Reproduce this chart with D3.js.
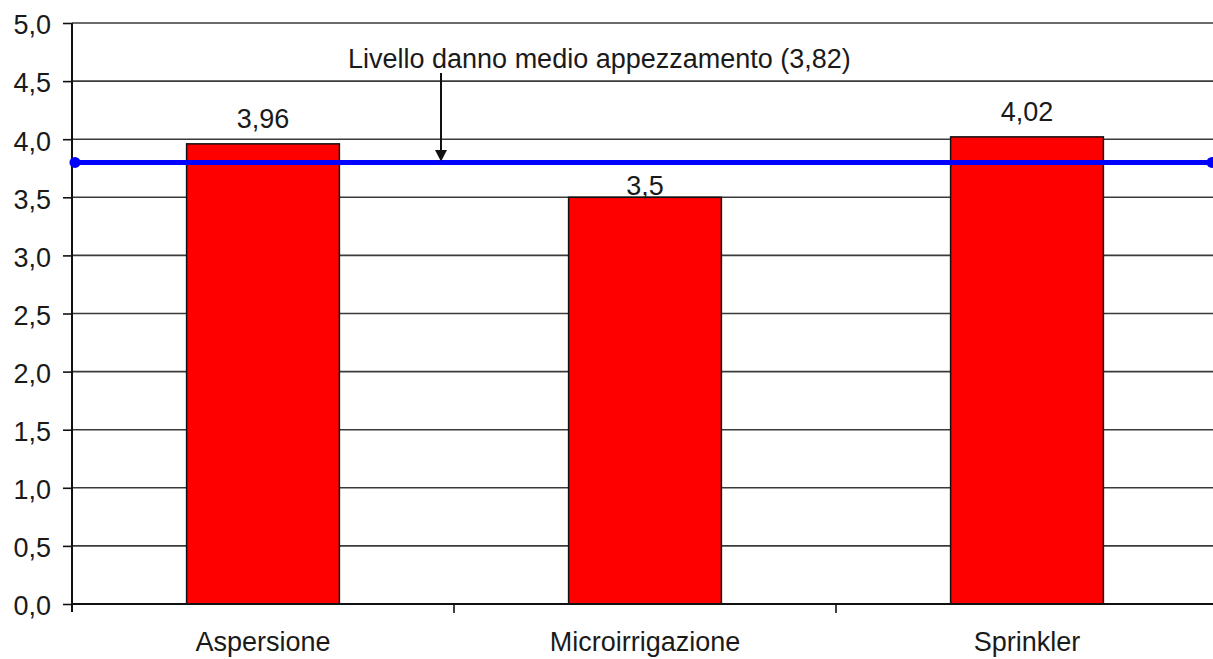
<!DOCTYPE html>
<html><head><meta charset="utf-8">
<script src="https://cdn.jsdelivr.net/npm/d3@7"></script>
<style>
html,body{margin:0;padding:0;background:#fff;overflow:hidden}
text{font-family:"Liberation Sans",Arial,sans-serif;fill:#1a1a1a}
</style></head>
<body><svg id="c" width="1213" height="659"></svg>
<script>
const categories = ["Aspersione","Microirrigazione","Sprinkler"];
const values = [3.96, 3.5, 4.02];
const valueLabels = ["3,96","3,5","4,02"];
const yTicks = [0,0.5,1,1.5,2,2.5,3,3.5,4,4.5,5];
const yTickLabels = ["0,0","0,5","1,0","1,5","2,0","2,5","3,0","3,5","4,0","4,5","5,0"];
const refValue = 3.8;
const refPoints = [0, 1];
const refLabel = "Livello danno medio appezzamento (3,82)";

(function(){
const svg = d3.select("#c");
const FS = 27;
const pL = 72, pR = 1218, pT = 23, pB = 604;
const x = d3.scaleBand().domain(categories).range([pL, pR]).paddingInner(0.6).paddingOuter(0.3);
const y = d3.scaleLinear().domain([0,5]).range([pB, pT]);
const xr = d3.scaleLinear().domain([0,1]).range([75, 1212]);
const gap = (x.step() - x.bandwidth())/2;

// gridlines
svg.append("g").selectAll("line").data(yTicks.filter(d=>d>0)).join("line")
  .attr("x1", pL).attr("x2", pR).attr("y1", d=>y(d)).attr("y2", d=>y(d))
  .attr("stroke", "#3a3a3a").attr("stroke-width", 1.6);

// bars
svg.append("g").selectAll("rect").data(values).join("rect")
  .attr("x", (d,i)=>x(categories[i])).attr("width", x.bandwidth())
  .attr("y", d=>y(d)).attr("height", d=>pB - y(d))
  .attr("fill", "#ff0000").attr("stroke", "#111").attr("stroke-width", 1.5);

// y axis
const yAxis = svg.append("g").attr("transform", `translate(${pL},0)`)
  .call(d3.axisLeft(y).tickValues(yTicks).tickFormat((d,i)=>yTickLabels[i]).tickSize(9).tickPadding(12));
yAxis.select(".domain").remove();
yAxis.selectAll(".tick line").attr("stroke", "#111").attr("stroke-width", 1.6);
yAxis.selectAll(".tick text").attr("font-size", FS).attr("fill", "#1a1a1a").attr("dy", "0.4em")
  .style("font-family", '"Liberation Sans",Arial,sans-serif');
svg.append("line").attr("x1", pL).attr("x2", pL).attr("y1", pT).attr("y2", pB + 8)
  .attr("stroke", "#111").attr("stroke-width", 2);

// x axis baseline + ticks at band boundaries
svg.append("line").attr("x1", pL).attr("x2", pR).attr("y1", pB).attr("y2", pB)
  .attr("stroke", "#111").attr("stroke-width", 1.8);
svg.append("g").selectAll("line").data(categories.slice(1)).join("line")
  .attr("x1", d=>x(d) - gap).attr("x2", d=>x(d) - gap)
  .attr("y1", pB).attr("y2", pB + 9).attr("stroke", "#111").attr("stroke-width", 1.6);

// category labels
svg.append("g").selectAll("text").data(categories).join("text")
  .attr("x", d=>x(d) + x.bandwidth()/2).attr("y", 651)
  .attr("text-anchor", "middle").attr("font-size", FS).text(d=>d);

// value labels (moved down onto the bar top if they would collide with the reference line)
const refY = y(refValue);
const labelY = d => {
  const b = y(d) - 16;
  return (b - 20 <= refY + 3 && b >= refY - 3) ? y(d) - 2 : b;
};
svg.append("g").selectAll("text").data(values).join("text")
  .attr("x", (d,i)=>x(categories[i]) + x.bandwidth()/2).attr("y", labelY)
  .attr("text-anchor", "middle").attr("font-size", FS).text((d,i)=>valueLabels[i]);

// reference line
svg.append("line").attr("x1", xr(refPoints[0])).attr("x2", 1223)
  .attr("y1", refY).attr("y2", refY)
  .attr("stroke", "#0000ff").attr("stroke-width", 5);
svg.append("g").selectAll("circle").data(refPoints).join("circle")
  .attr("cx", d=>xr(d)).attr("cy", refY).attr("r", 5.5).attr("fill", "#0000ff");

// annotation
svg.append("text").attr("x", 348).attr("y", 68).attr("font-size", FS).text(refLabel);
svg.append("line").attr("x1", 441).attr("x2", 441).attr("y1", 73).attr("y2", 152)
  .attr("stroke", "#111").attr("stroke-width", 2);
svg.append("path").attr("d", d3.line()([[435,150],[447,150],[441,refY-1]])+"Z").attr("fill", "#111");
})();
</script></body></html>
